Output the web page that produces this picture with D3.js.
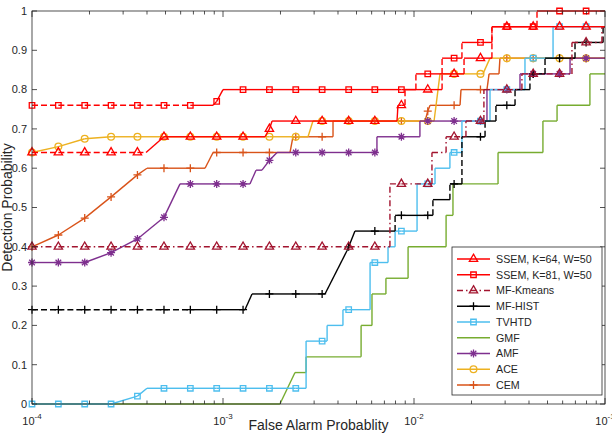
<!DOCTYPE html>
<html>
<head>
<meta charset="utf-8">
<script src="https://cdn.jsdelivr.net/npm/d3@7/dist/d3.min.js"></script>
<style>
    body { margin: 0; background: #fff; }
    text { font-family: "Liberation Sans", Arial, Helvetica, sans-serif; fill: #262626; }
</style>
</head>
<body>
<svg id="chart" width="612" height="433"></svg>
<script>
// x values are log10(false alarm probability), y values are detection probability
var markerLogFA = [-4.000, -3.862, -3.724, -3.586, -3.448, -3.309, -3.171, -3.033, -2.895, -2.757, -2.619,
    -2.481, -2.342, -2.205, -2.066, -1.928, -1.790, -1.652, -1.514, -1.376, -1.238, -1.099];

var legendNames = ["SSEM, K=64, W=50", "SSEM, K=81, W=50", "MF-Kmeans", "MF-HIST", "TVHTD", "GMF", "AMF", "ACE", "CEM"];

// detection probability at each marker position
var ssem64Marks = [0.64, 0.64, 0.64, 0.64, 0.64, 0.68, 0.68, 0.68, 0.68, 0.70, 0.72, 0.72, 0.72, 0.72, 0.76, 0.80, 0.84, 0.88, 0.96, 0.96, 0.96, 0.96];
var ssem81Marks = [0.76, 0.76, 0.76, 0.76, 0.76, 0.76, 0.76, 0.77, 0.80, 0.80, 0.80, 0.80, 0.80, 0.80, 0.80, 0.84, 0.88, 0.92, 0.96, 0.96, 1.00, 1.00];
var kmeansMarks = [0.40, 0.40, 0.40, 0.40, 0.40, 0.40, 0.40, 0.40, 0.40, 0.40, 0.40, 0.40, 0.40, 0.40, 0.56, 0.56, 0.68, 0.72, 0.80, 0.84, 0.84, 0.92];
var histMarks = [0.24, 0.24, 0.24, 0.24, 0.24, 0.24, 0.24, 0.24, 0.24, 0.28, 0.28, 0.28, 0.40, 0.44, 0.48, 0.48, 0.56, 0.68, 0.76, 0.84, 0.88, 0.92];
var tvhtdMarks = [0, 0, 0, 0, 0.02, 0.04, 0.04, 0.04, 0.04, 0.04, 0.04, 0.16, 0.24, 0.36, 0.44, 0.56, 0.64, 0.72, 0.80, 0.88, 0.96, 0.96];
var amfMarks = [0.36, 0.36, 0.36, 0.385, 0.42, 0.475, 0.56, 0.56, 0.56, 0.62, 0.64, 0.64, 0.64, 0.64, 0.68, 0.72, 0.72, 0.72, 0.80, 0.84, 0.84, 0.88];
var aceMarks = [0.64, 0.655, 0.675, 0.68, 0.68, 0.68, 0.68, 0.68, 0.68, 0.68, 0.68, 0.72, 0.72, 0.72, 0.72, 0.72, 0.84, 0.84, 0.88, 0.88, 0.88, 0.88];
var cemMarks = [0.40, 0.43, 0.473, 0.527, 0.583, 0.60, 0.60, 0.64, 0.64, 0.64, 0.68, 0.68, 0.72, 0.72, 0.72, 0.745, 0.76, 0.80, 0.88, 0.88, 0.88, 0.88];

// extra curve vertices between the markers (steps of the ROC curves)
var ssem64Steps = [[-3.403, 0.64], [-2.780, 0.68], [-2.743, 0.72], [-2.089, 0.72], [-2.084, 0.76], [-2.047, 0.76], [-2.047, 0.80],
    [-1.853, 0.80], [-1.853, 0.84], [-1.738, 0.84], [-1.738, 0.88], [-1.592, 0.88], [-1.592, 0.96], [-1.000, 0.96]];
var ssem81Steps = [[-3.052, 0.76], [-3.000, 0.80], [-1.990, 0.80], [-1.990, 0.84], [-1.853, 0.84], [-1.853, 0.88], [-1.749, 0.88],
    [-1.749, 0.92], [-1.592, 0.92], [-1.592, 0.96], [-1.356, 0.96], [-1.356, 1.00], [-1.000, 1.00]];
var kmeansSteps = [[-2.126, 0.40], [-2.126, 0.56], [-1.906, 0.56], [-1.906, 0.64], [-1.832, 0.64], [-1.832, 0.68], [-1.728, 0.68],
    [-1.728, 0.72], [-1.634, 0.72], [-1.634, 0.80], [-1.435, 0.80], [-1.435, 0.84], [-1.173, 0.84], [-1.173, 0.92], [-1.016, 0.92],
    [-1.016, 0.96], [-1.000, 0.96]];
var histSteps = [[-2.885, 0.24], [-2.848, 0.28], [-2.466, 0.28], [-2.351, 0.39], [-2.309, 0.44], [-2.099, 0.44], [-2.099, 0.48],
    [-1.901, 0.48], [-1.901, 0.52], [-1.812, 0.52], [-1.812, 0.56], [-1.749, 0.56], [-1.749, 0.68], [-1.628, 0.68], [-1.628, 0.72],
    [-1.571, 0.72], [-1.571, 0.76], [-1.471, 0.76], [-1.471, 0.80], [-1.393, 0.80], [-1.393, 0.84], [-1.314, 0.84], [-1.314, 0.88],
    [-1.157, 0.88], [-1.157, 0.92], [-1.010, 0.92], [-1.010, 0.96], [-1.000, 0.96]];
var tvhtdSteps = [[-3.398, 0.04], [-2.565, 0.04], [-2.565, 0.16], [-2.455, 0.16], [-2.455, 0.20], [-2.372, 0.20], [-2.372, 0.24],
    [-2.230, 0.24], [-2.230, 0.36], [-2.136, 0.36], [-2.136, 0.40], [-2.099, 0.40], [-2.099, 0.44], [-1.984, 0.44], [-1.984, 0.56],
    [-1.890, 0.56], [-1.890, 0.60], [-1.812, 0.60], [-1.812, 0.64], [-1.749, 0.64], [-1.749, 0.72], [-1.602, 0.72], [-1.602, 0.80],
    [-1.419, 0.80], [-1.419, 0.88], [-1.272, 0.88], [-1.272, 0.96], [-1.000, 0.96]];
var gmfSteps = [[-4.000, 0], [-2.702, 0], [-2.623, 0.08], [-2.565, 0.08], [-2.565, 0.12], [-2.277, 0.12], [-2.277, 0.20],
    [-2.220, 0.20], [-2.220, 0.28], [-2.147, 0.28], [-2.147, 0.32], [-2.031, 0.32], [-2.031, 0.40], [-1.832, 0.40], [-1.832, 0.48],
    [-1.796, 0.48], [-1.796, 0.56], [-1.560, 0.56], [-1.560, 0.64], [-1.325, 0.64], [-1.325, 0.72], [-1.251, 0.72], [-1.251, 0.76],
    [-1.079, 0.76], [-1.079, 0.84], [-1.000, 0.84]];
var amfSteps = [[-3.225, 0.56], [-2.859, 0.56], [-2.827, 0.595], [-2.796, 0.595], [-2.717, 0.64], [-2.194, 0.64], [-2.194, 0.68],
    [-1.969, 0.68], [-1.969, 0.72], [-1.618, 0.72], [-1.618, 0.80], [-1.445, 0.80], [-1.445, 0.84], [-1.183, 0.84], [-1.183, 0.88],
    [-1.000, 0.88]];
var aceSteps = [[-2.555, 0.68], [-2.529, 0.72], [-1.895, 0.72], [-1.864, 0.84], [-1.639, 0.84], [-1.602, 0.88], [-1.000, 0.88]];
var cemSteps = [[-3.398, 0.60], [-3.094, 0.60], [-3.052, 0.64], [-2.649, 0.64], [-2.634, 0.68], [-2.424, 0.68], [-2.424, 0.72],
    [-1.942, 0.72], [-1.916, 0.76], [-1.759, 0.76], [-1.754, 0.80], [-1.618, 0.80], [-1.607, 0.84], [-1.555, 0.84], [-1.550, 0.88],
    [-1.000, 0.88]];

var yTicks = [0, 0.1, 0.2, 0.3, 0.4, 0.5, 0.6, 0.7, 0.8, 0.9, 1];
var xTickExps = [-4, -3, -2, -1];

var series = [
    {name: legendNames[0], color: "#ff0000", marker: "triangle", dash: "6,3", sparseUntil: -3.40, marks: ssem64Marks, steps: ssem64Steps},
    {name: legendNames[1], color: "#ff0000", marker: "square", dash: "6,3", sparseUntil: -3.17, marks: ssem81Marks, steps: ssem81Steps},
    {name: legendNames[2], color: "#a2142f", marker: "triangle", dash: "6,3,1.5,3", sparseUntil: -1.0, marks: kmeansMarks, steps: kmeansSteps},
    {name: legendNames[3], color: "#000000", marker: "plus", dash: "6,3", sparseUntil: -3.17, marks: histMarks, steps: histSteps},
    {name: legendNames[4], color: "#4dbeee", marker: "square", marks: tvhtdMarks, steps: tvhtdSteps},
    {name: legendNames[5], color: "#77ac30", marker: null, marks: null, steps: gmfSteps},
    {name: legendNames[6], color: "#7e2f8e", marker: "asterisk", marks: amfMarks, steps: amfSteps},
    {name: legendNames[7], color: "#edb120", marker: "circle", marks: aceMarks, steps: aceSteps},
    {name: legendNames[8], color: "#d95319", marker: "plus", marks: cemMarks, steps: cemSteps}
];

var width = 612, height = 433;
var margin = {left: 32, right: 7, top: 11, bottom: 29};

var svg = d3.select("#chart");

var x = d3.scaleLog().domain([1e-4, 1e-1]).range([margin.left, width - margin.right]);
var y = d3.scaleLinear().domain([0, 1]).range([height - margin.bottom, margin.top]);

function fx(lx) {
    return x(Math.pow(10, lx));
}

var markerPaths = {
    triangle: d3.symbol().type(d3.symbolTriangle).size(30)(),
    square: d3.symbol().type(d3.symbolSquare).size(30)(),
    circle: d3.symbol().type(d3.symbolCircle).size(36)(),
    plus: "M-4,0H4M0,-4V4",
    asterisk: "M-4,0H4M0,-4V4M-2.8,-2.8L2.8,2.8M-2.8,2.8L2.8,-2.8"
};

// curves, drawn last-in-legend first so SSEM is on top
var plot = svg.append("g");

series.slice().reverse().forEach(function (s) {
    var pts = [];
    if (s.marks) {
        s.marks.forEach(function (v, i) {
            pts.push([markerLogFA[i], v]);
        });
    }
    pts = pts.concat(s.steps);
    pts.sort(function (a, b) { return a[0] - b[0]; });

    var segs = [];
    for (var i = 0; i < pts.length - 1; i++) {
        segs.push([pts[i], pts[i + 1]]);
    }

    var g = plot.append("g");

    g.selectAll("line")
        .data(segs)
        .enter().append("line")
        .attr("x1", function (d) { return fx(d[0][0]); })
        .attr("y1", function (d) { return y(d[0][1]); })
        .attr("x2", function (d) { return fx(d[1][0]); })
        .attr("y2", function (d) { return y(d[1][1]); })
        .attr("stroke", s.color)
        .attr("stroke-width", 1.4)
        .attr("stroke-linecap", "butt")
        .attr("stroke-dasharray", function (d) {
            if (!s.dash) return null;
            var vertical = d[0][0] === d[1][0];
            return (vertical || d[1][0] <= s.sparseUntil + 1e-9) ? s.dash : null;
        });

    if (s.marks) {
        g.selectAll("path")
            .data(s.marks)
            .enter().append("path")
            .attr("d", markerPaths[s.marker])
            .attr("transform", function (d, i) {
                return "translate(" + fx(markerLogFA[i]) + "," + y(d) + ")";
            })
            .attr("fill", "none")
            .attr("stroke", s.color)
            .attr("stroke-width", 1.3);
    }
});

// axes box and ticks
var axisColor = "#262626";
var x0 = margin.left, x1 = width - margin.right, y0 = height - margin.bottom, y1 = margin.top;

svg.append("rect")
    .attr("x", x0).attr("y", y1)
    .attr("width", x1 - x0).attr("height", y0 - y1)
    .attr("fill", "none")
    .attr("stroke", axisColor)
    .attr("stroke-width", 0.8);

var minorTicks = x.ticks().filter(function (t) {
    return xTickExps.indexOf(Math.round(Math.log10(t) * 1000) / 1000) < 0;
});

var tickG = svg.append("g").attr("stroke", axisColor).attr("stroke-width", 0.8);

tickG.selectAll(".ytl").data(yTicks).enter().append("line")
    .attr("x1", x0).attr("x2", x0 + 5)
    .attr("y1", function (d) { return y(d); }).attr("y2", function (d) { return y(d); });
tickG.selectAll(".ytr").data(yTicks).enter().append("line")
    .attr("x1", x1).attr("x2", x1 - 5)
    .attr("y1", function (d) { return y(d); }).attr("y2", function (d) { return y(d); });

var xMajor = xTickExps.map(function (e) { return Math.pow(10, e); });
[[y0, -1], [y1, 1]].forEach(function (side) {
    tickG.selectAll(null).data(xMajor).enter().append("line")
        .attr("x1", function (d) { return x(d); }).attr("x2", function (d) { return x(d); })
        .attr("y1", side[0]).attr("y2", side[0] + side[1] * 6);
    tickG.selectAll(null).data(minorTicks).enter().append("line")
        .attr("x1", function (d) { return x(d); }).attr("x2", function (d) { return x(d); })
        .attr("y1", side[0]).attr("y2", side[0] + side[1] * 3.5);
});

// tick labels
svg.selectAll(".ylab").data(yTicks).enter().append("text")
    .attr("x", x0 - 5)
    .attr("y", function (d) { return y(d); })
    .attr("dy", "0.35em")
    .attr("text-anchor", "end")
    .style("font-size", "11px")
    .text(function (d) { return d; });

var xl = svg.selectAll(".xlab").data(xTickExps).enter().append("text")
    .attr("x", function (d) { return x(Math.pow(10, d)); })
    .attr("y", 425)
    .attr("text-anchor", "middle")
    .style("font-size", "11px");
xl.append("tspan").text("10");
xl.append("tspan").attr("dy", -6).style("font-size", "8px").text(function (d) { return d; });

// axis titles
svg.append("text")
    .attr("x", (x0 + x1) / 2)
    .attr("y", 429.5)
    .attr("text-anchor", "middle")
    .style("font-size", "14px")
    .text("False Alarm Probablity");

svg.append("text")
    .attr("transform", "translate(12," + (y0 + y1) / 2 + ") rotate(-90)")
    .attr("text-anchor", "middle")
    .style("font-size", "14px")
    .text("Detection Probability");

// legend
var legend = svg.append("g");
legend.append("rect")
    .attr("x", 452).attr("y", 247)
    .attr("width", 150).attr("height", 148)
    .attr("fill", "#fff")
    .attr("stroke", axisColor)
    .attr("stroke-width", 0.8);

var items = legend.selectAll(".item").data(series).enter().append("g")
    .attr("transform", function (d, i) { return "translate(0," + (259 + i * 15.75) + ")"; });

items.append("line")
    .attr("x1", 457).attr("x2", 490)
    .attr("stroke", function (d) { return d.color; })
    .attr("stroke-width", 1.4)
    .attr("stroke-dasharray", function (d) { return d.dash === "6,3,1.5,3" ? d.dash : null; });

items.filter(function (d) { return d.marker; }).append("path")
    .attr("d", function (d) { return markerPaths[d.marker]; })
    .attr("transform", "translate(473.5,0)")
    .attr("fill", "none")
    .attr("stroke", function (d) { return d.color; })
    .attr("stroke-width", 1.3);

items.append("text")
    .attr("x", 496)
    .attr("dy", "0.35em")
    .style("font-size", "10.7px")
    .text(function (d) { return d.name; });
</script>
</body>
</html>
